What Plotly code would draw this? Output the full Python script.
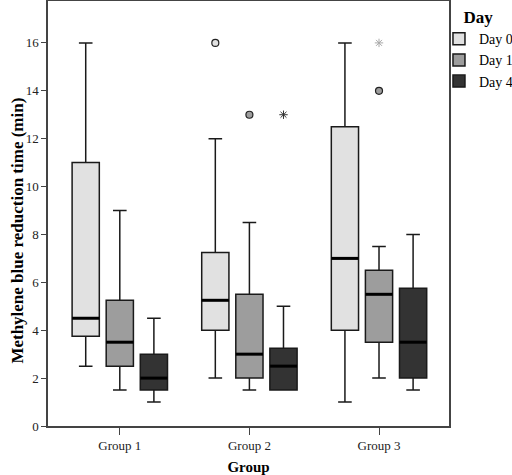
import plotly.graph_objects as go

# ---- data ----
groups = ["Group 1", "Group 2", "Group 3"]
days = ["Day 0", "Day 1", "Day 4"]

lower_whisker = {"Day 0": [2.5, 2.0, 1.0], "Day 1": [1.5, 1.5, 2.0], "Day 4": [1.0, 1.5, 1.5]}
q1_vals       = {"Day 0": [3.75, 4.0, 4.0], "Day 1": [2.5, 2.0, 3.5], "Day 4": [1.5, 1.5, 2.0]}
median_vals   = {"Day 0": [4.5, 5.25, 7.0], "Day 1": [3.5, 3.0, 5.5], "Day 4": [2.0, 2.5, 3.5]}
q3_vals       = {"Day 0": [11.0, 7.25, 12.5], "Day 1": [5.25, 5.5, 6.5], "Day 4": [3.0, 3.25, 5.75]}
upper_whisker = {"Day 0": [16.0, 12.0, 16.0], "Day 1": [9.0, 8.5, 7.5], "Day 4": [4.5, 5.0, 8.0]}

# outliers: (group, day, value, kind)
outlier_group = ["Group 2", "Group 2", "Group 2", "Group 3", "Group 3"]
outlier_day = ["Day 0", "Day 1", "Day 4", "Day 1", "Day 1"]
outlier_value = [16, 13, 13, 16, 14]
outlier_kind = ["circle", "circle", "star", "star", "circle"]

y_ticks = [0, 2, 4, 6, 8, 10, 12, 14, 16]
y_title = "Methylene blue reduction time (min)"
x_title = "Group"
legend_title = "Day"

# ---- styling ----
fills = {"Day 0": "#e1e1e1", "Day 1": "#9d9d9d", "Day 4": "#333333"}
star_colors = {"Group 2": "#333333", "Group 3": "#aaaaaa"}
day_offset = {"Day 0": -0.263, "Day 1": 0.0, "Day 4": 0.263}
box_w = 0.21
FONT = "Liberation Serif"

gpos = {g: i + 1 for i, g in enumerate(groups)}

fig = go.Figure()
for d in days:
    xs = [gpos[g] + day_offset[d] for g in groups]
    fig.add_trace(go.Box(
        name=d, x=xs,
        q1=q1_vals[d], median=median_vals[d], q3=q3_vals[d],
        lowerfence=lower_whisker[d], upperfence=upper_whisker[d],
        width=box_w, whiskerwidth=0.5,
        fillcolor=fills[d], line=dict(color="#1a1a1a", width=1.5),
        boxpoints=False, showlegend=True,
    ))

# thick median lines
for d in days:
    mx, my = [], []
    for i, g in enumerate(groups):
        c = gpos[g] + day_offset[d]
        mx += [c - box_w / 2, c + box_w / 2, None]
        my += [median_vals[d][i], median_vals[d][i], None]
    fig.add_trace(go.Scatter(x=mx, y=my, mode="lines",
                             line=dict(color="black", width=3),
                             showlegend=False, hoverinfo="skip"))

# outliers
for g, d, v, k in zip(outlier_group, outlier_day, outlier_value, outlier_kind):
    x = gpos[g] + day_offset[d]
    if k == "circle":
        m = dict(symbol="circle", size=7, color=fills[d], line=dict(color="#222", width=1.2))
    else:
        m = dict(symbol="asterisk-open", size=7, color=star_colors[g],
                 line=dict(color=star_colors[g], width=1))
    fig.add_trace(go.Scatter(x=[x], y=[v], mode="markers", marker=m,
                             showlegend=False, hoverinfo="skip"))

# y-axis title as a rotated text (placed like the original, slightly below centre)
fig.add_annotation(
    text=f"<b>{y_title}</b>", textangle=-90,
    xref="paper", yref="paper", x=-0.077, y=0.46,
    xanchor="center", yanchor="middle", showarrow=False,
    font=dict(family=FONT, size=17, color="black"),
)

fig.update_layout(
    width=512, height=475,
    margin=dict(l=48, r=63, t=1, b=49, autoexpand=False),
    plot_bgcolor="white", paper_bgcolor="white",
    font=dict(family=FONT, color="black", size=12),
    boxmode="overlay",
    legend=dict(
        x=0.975, xanchor="left", y=1.0, yanchor="top",
        bgcolor="rgba(0,0,0,0)",
        font=dict(family=FONT, size=14, color="black"),
        title=dict(text=f"<b>{legend_title}</b>", font=dict(family=FONT, size=17), side="top center"),
        itemwidth=30, tracegroupgap=0,
    ),
    xaxis=dict(
        range=[0.446, 3.54], tickmode="array", tickvals=[gpos[g] for g in groups],
        ticktext=groups, ticks="outside", ticklen=7, tickcolor="#444",
        showline=True, linecolor="#444", linewidth=1.5, mirror=True,
        showgrid=False, zeroline=False,
        tickfont=dict(family=FONT, size=13, color="#222"),
        title=dict(text=f"<b>{x_title}</b>", font=dict(family=FONT, size=15), standoff=9),
    ),
    yaxis=dict(
        range=[0, 17.75], tickvals=y_ticks, ticks="outside", ticklen=5, tickcolor="#444",
        showline=True, linecolor="#444", linewidth=1.5, mirror=True,
        showgrid=False, zeroline=False,
        tickfont=dict(family=FONT, size=13, color="#222"),
    ),
)

fig.write_html("out.html", config={"displayModeBar": False},
               post_script="document.body.style.margin='0px';")
